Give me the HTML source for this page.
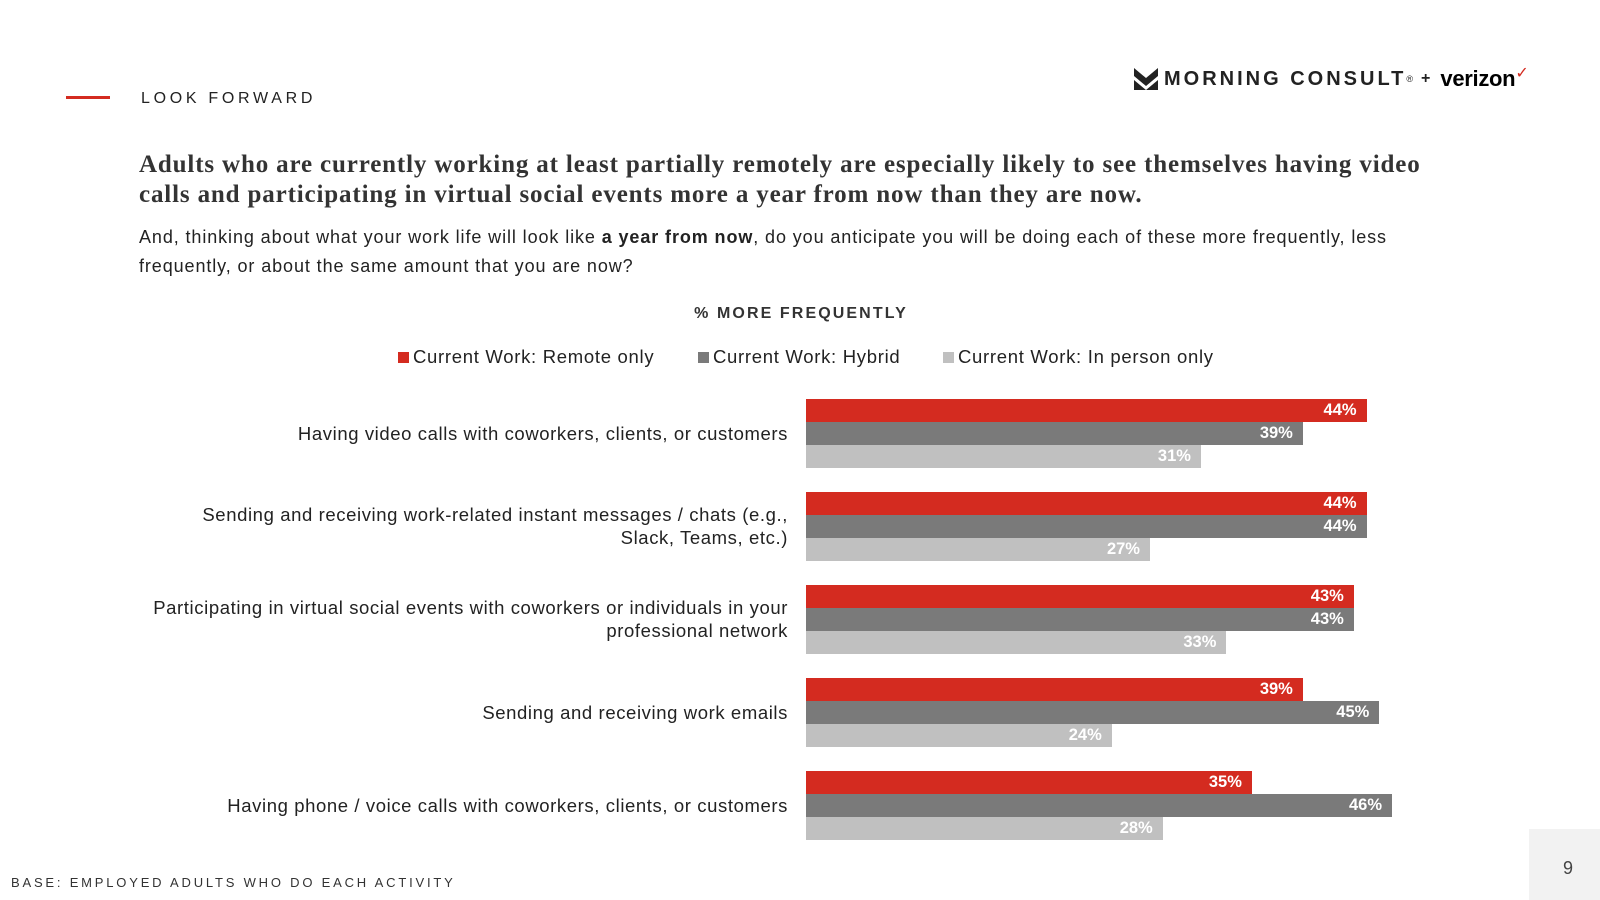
<!DOCTYPE html>
<html><head><meta charset="utf-8"><style>
body{margin:0;width:1600px;height:900px;background:#fff;position:relative;overflow:hidden;font-family:"Liberation Sans",sans-serif;color:#222}
.abs{position:absolute}
</style></head><body>
<div class="abs" style="left:66px;top:96px;width:44px;height:3px;background:#d42b20"></div>
<div class="abs" style="left:141px;top:90px;font-size:16px;letter-spacing:3.7px;color:#222">LOOK FORWARD</div>
<div class="abs" style="left:1134px;top:66px;display:flex;align-items:center;white-space:nowrap">
 <svg width="24" height="22" viewBox="0 0 24 22"><path d="M0 0 L12 10 L24 0 L24 8 L12 18 L0 8Z M0 12 L12 22 L24 12 L24 22 L0 22Z" fill="#222"/></svg>
 <span style="font-weight:bold;font-size:20px;letter-spacing:3px;margin-left:6px;color:#222">MORNING CONSULT</span><span style="font-size:9px;vertical-align:top">®</span>
 <span style="font-size:16px;margin:0 10px 0 8px;font-weight:bold">+</span>
 <span style="font-weight:bold;font-size:22px;letter-spacing:-0.3px;color:#000">verizon</span><span style="color:#d42b20;font-size:16px;position:relative;top:-6px">✓</span>
</div>
<div class="abs" style="left:139px;top:150px;width:1320px;font-family:'Liberation Serif',serif;font-weight:bold;font-size:25px;line-height:30px;letter-spacing:0.85px;color:#333">Adults who are currently working at least partially remotely are especially likely to see themselves having video calls and participating in virtual social events more a year from now than they are now.</div>
<div class="abs" style="left:139px;top:223px;width:1270px;font-size:18px;line-height:29px;letter-spacing:0.9px;color:#222">And, thinking about what your work life will look like <b>a year from now</b>, do you anticipate you will be doing each of these more frequently, less frequently, or about the same amount that you are now?</div>
<div class="abs" style="left:601px;top:305px;width:400px;text-align:center;font-weight:bold;font-size:16px;letter-spacing:2.1px;color:#333">% MORE FREQUENTLY</div>
<div class="abs" style="left:0;top:346px;font-size:18.5px;letter-spacing:0.7px;color:#222;width:1600px;height:24px">
 <div class="abs" style="left:398px;top:0;white-space:nowrap"><span style="display:inline-block;width:11px;height:11px;background:#d42b20;margin-right:4px"></span>Current Work: Remote only</div>
 <div class="abs" style="left:698px;top:0;white-space:nowrap"><span style="display:inline-block;width:11px;height:11px;background:#7a7a7a;margin-right:4px"></span>Current Work: Hybrid</div>
 <div class="abs" style="left:943px;top:0;white-space:nowrap"><span style="display:inline-block;width:11px;height:11px;background:#c0c0c0;margin-right:4px"></span>Current Work: In person only</div>
</div>
<div id="chart" class="abs" style="left:0;top:0;width:1600px;height:900px"></div>
<div class="abs" style="left:11px;top:875px;font-size:13px;letter-spacing:2.8px;color:#333">BASE: EMPLOYED ADULTS WHO DO EACH ACTIVITY</div>
<div class="abs" style="left:1529px;top:829px;width:71px;height:71px;background:#f2f2f2"><div style="position:absolute;left:34px;top:29px;font-size:18px;color:#444">9</div></div>
<script>
const categories=["Having video calls with coworkers, clients, or customers","Sending and receiving work-related instant messages / chats (e.g., Slack, Teams, etc.)","Participating in virtual social events with coworkers or individuals in your professional network","Sending and receiving work emails","Having phone / voice calls with coworkers, clients, or customers"];
const remoteValues=[44,44,43,39,35];
const hybridValues=[39,44,43,45,46];
const inPersonValues=[31,27,33,24,28];
const seriesColors=["#d42b20","#7a7a7a","#c0c0c0"];
const chart=document.getElementById('chart');
const x0=806, pxPer=12.74, top0=399, pitch=92.9, bh=23;
function xScale(v){return v*pxPer;}
function yGroup(i){return top0+i*pitch;}
const series=[remoteValues,hybridValues,inPersonValues];
const labelWidths=[660,600,660,660,660];
categories.forEach((c,i)=>{
 const l=document.createElement('div');
 
 
 l.style.cssText=`position:absolute;right:${1600-788}px;width:${labelWidths[i]}px;text-align:right;font-size:18.5px;letter-spacing:0.6px;line-height:23px;color:#222;`;
 l.textContent=c;
 chart.appendChild(l);
 const h=l.offsetHeight;
 l.style.top=(yGroup(i)+1.5*bh-h/2)+'px';
 series.forEach((s,k)=>{
  const b=document.createElement('div');
  
  
  const w=xScale(s[i]);
  b.style.cssText=`position:absolute;left:${x0}px;top:${yGroup(i)+k*bh}px;width:${w}px;height:${bh}px;background:${seriesColors[k]};color:#fff;font-weight:bold;font-size:16.5px;line-height:${bh}px;text-align:right;box-sizing:border-box;padding-right:10px;`;
  b.textContent=s[i]+'%';
  chart.appendChild(b);
 });
});
</script>
</body></html>
